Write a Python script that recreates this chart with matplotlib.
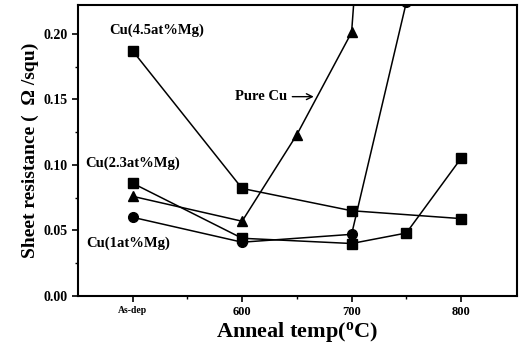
import numpy as np
import matplotlib.pyplot as plt

# x positions: As-dep drawn at 500
temp_sq45 = [500, 600, 700, 800]
res_sq45 = [0.187, 0.082, 0.065, 0.059]

temp_tri = [500, 600, 650, 700, 750]
res_tri = [0.076, 0.057, 0.123, 0.201, 0.77]

temp_circ = [500, 600, 700, 750]
res_circ = [0.060, 0.041, 0.047, 0.224]

temp_sq = [500, 600, 700, 750, 800]
res_sq = [0.086, 0.044, 0.040, 0.048, 0.105]

xtick_pos = [500, 600, 700, 800]
xtick_lab = ["As-dep", "600", "700", "800"]

plt.rcParams['font.family'] = ['Liberation Serif', 'DejaVu Serif']
plt.rcParams['font.weight'] = 'bold'
plt.rcParams['mathtext.default'] = 'regular'

fig = plt.figure(figsize=(5.19, 3.49), dpi=100)
ax = fig.add_axes([0.150, 0.152, 0.846, 0.834])

kw = dict(color='black', lw=1.1, markersize=7)
ax.plot(temp_sq45, res_sq45, marker='s', **kw)
ax.plot(temp_tri, res_tri, marker='^', **kw)
ax.plot(temp_circ, res_circ, marker='o', **kw)
ax.plot(temp_sq, res_sq, marker='s', **kw)

ax.set_xlim(450, 851)
ax.set_ylim(0, 0.222)
ax.set_xticks(xtick_pos)
ax.set_xticklabels(xtick_lab)
for t in ax.get_xticklabels():
    t.set_fontsize(9)
ax.get_xticklabels()[0].set_fontsize(7)
ax.set_xticks([550, 650, 750], minor=True)
ax.set_yticks([0, 0.05, 0.10, 0.15, 0.20])
ax.set_yticklabels(["0.00", "0.05", "0.10", "0.15", "0.20"], fontsize=10)
ax.set_yticks([0.025, 0.075, 0.125, 0.175], minor=True)
ax.tick_params(direction='out', length=4, width=1.2)
ax.tick_params(which='minor', direction='out', length=2.5, width=1)
for s in ax.spines.values():
    s.set_linewidth(1.5)

ax.set_xlabel("Anneal temp($^{o}$C)", fontsize=16, fontweight='bold', labelpad=1)
ax.set_ylabel("Sheet resistance (  \u03a9 /squ)", fontsize=14, fontweight='bold', labelpad=3)

tkw = dict(fontsize=10.5, fontweight='bold', ha='center', va='center')
ax.text(522, 0.203, "Cu(4.5at%Mg)", **tkw)
ax.text(500, 0.1015, "Cu(2.3at%Mg)", **tkw)
ax.text(496, 0.040, "Cu(1at%Mg)", **tkw)
ax.annotate("Pure Cu", xy=(668, 0.152), xytext=(617, 0.152), fontsize=10.5,
            fontweight='bold', ha='center', va='center',
            arrowprops=dict(arrowstyle='->', color='black', lw=1))

fig.savefig("out.png", dpi=100)
